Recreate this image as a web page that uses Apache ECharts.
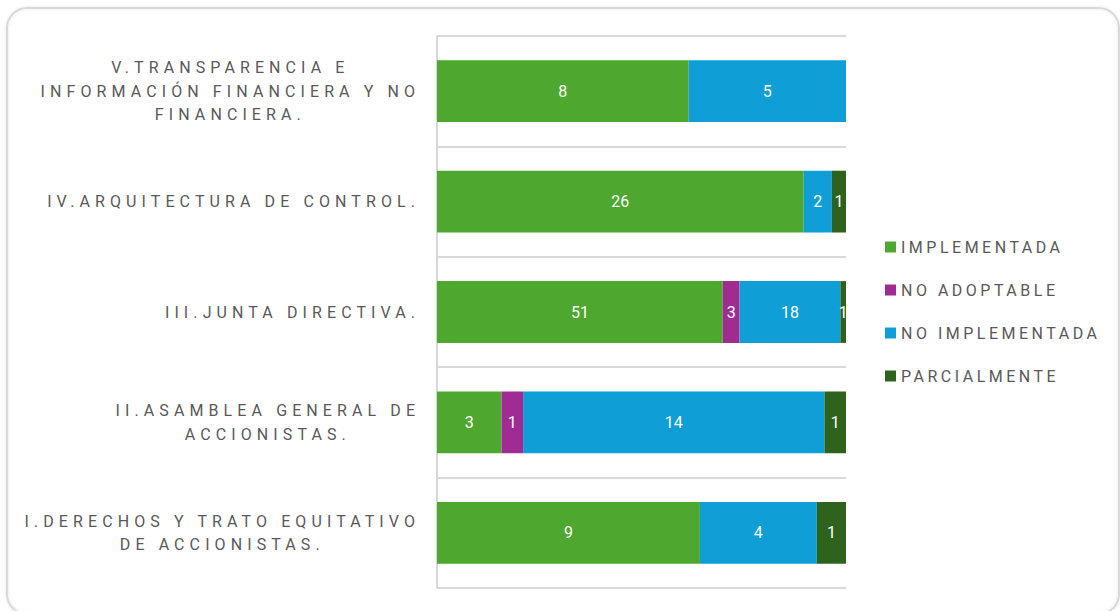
<!DOCTYPE html>
<html>
<head>
<meta charset="utf-8">
<script src="https://cdn.jsdelivr.net/npm/echarts@6/dist/echarts.min.js"></script>
<style>
html,body{margin:0;padding:0;background:#fff;}
#main{width:1120px;height:611px;}
</style>
</head>
<body>
<div id="main"></div>
<script>
// Categories bottom -> top
var categories = [
  'I.DERECHOS Y TRATO EQUITATIVO\nDE ACCIONISTAS.',
  'II.ASAMBLEA GENERAL DE\nACCIONISTAS.',
  'III.JUNTA DIRECTIVA.',
  'IV.ARQUITECTURA DE CONTROL.',
  'V.TRANSPARENCIA E\nINFORMACIÓN FINANCIERA Y NO\nFINANCIERA.'
];
var seriesNames = ['IMPLEMENTADA', 'NO ADOPTABLE', 'NO IMPLEMENTADA', 'PARCIALMENTE'];
var implementada   = [9, 3, 51, 26, 8];
var noAdoptable    = [0, 1, 3, 0, 0];
var noImplementada = [4, 14, 18, 2, 5];
var parcialmente   = [1, 1, 1, 1, 0];
var colors = ['#4EA72E', '#A02B93', '#0F9ED5', '#2E631E'];

var allVals = [implementada, noAdoptable, noImplementada, parcialmente];
var totals = categories.map(function (c, i) {
  return allVals.reduce(function (s, arr) { return s + arr[i]; }, 0);
});

var CAT_SPACING = 5.1;   // letter spacing for axis labels (px)
var LEG_SPACING = 3.5;   // letter spacing for legend texts (px)
var LABEL_RIGHT = 415;   // right edge of the axis label block

var chart = echarts.init(document.getElementById('main'), null, {renderer: 'svg'});

var series = allVals.map(function (arr, k) {
  return {
    name: seriesNames[k],
    type: 'bar',
    stack: 'total',
    barWidth: '56%',
    itemStyle: {color: colors[k]},
    label: {
      show: true,
      position: 'inside',
      color: '#ffffff',
      fontSize: 16,
      fontFamily: 'Roboto',
      formatter: function (p) { return p.data.raw > 0 ? String(p.data.raw) : ''; }
    },
    data: arr.map(function (v, i) { return {value: v / totals[i] * 100, raw: v}; })
  };
});

chart.setOption({
  animation: false,
  color: colors,
  grid: {left: 437, right: 274, top: 36, bottom: 23, containLabel: false},
  xAxis: {type: 'value', min: 0, max: 100, show: false},
  yAxis: {
    type: 'category',
    data: categories,
    axisTick: {show: false},
    axisLine: {show: true, lineStyle: {color: '#d9d9d9', width: 2}},
    splitLine: {show: true, lineStyle: {color: '#d9d9d9', width: 2}},
    axisLabel: {
      margin: 22,
      fontSize: 16,
      fontFamily: 'Roboto',
      color: '#595959',
      formatter: function (v) {
        return v.split('\n').map(function (l) { return '{c|' + l + '}'; }).join('\n');
      },
      rich: {c: {align: 'center', fontSize: 16, lineHeight: 23.5, color: '#595959', fontFamily: 'Roboto'}}
    }
  },
  legend: {
    orient: 'vertical',
    left: 880,
    top: 234,
    icon: 'rect',
    itemWidth: 11,
    itemHeight: 11,
    itemGap: 27,
    textStyle: {color: '#595959', fontSize: 16, fontFamily: 'Roboto'},
    data: seriesNames
  },
  graphic: [
    {
      type: 'rect', z: 100, silent: true,
      shape: {x: 847, y: 30, width: 30, height: 565},
      style: {fill: '#ffffff'}
    },
    {
      type: 'rect', z: 101, silent: true,
      shape: {x: 7, y: 8, width: 1112, height: 606, r: 20},
      style: {fill: 'none', stroke: '#d9d9d9', lineWidth: 2, shadowBlur: 3, shadowColor: 'rgba(0,0,0,0.12)'}
    }
  ],
  series: series
});

// Tracked (letter-spaced) text, as in the reference
function applySpacing() {
  var texts = Array.prototype.slice.call(document.querySelectorAll('#main text'));
  texts.forEach(function (t) {
    var s = t.textContent;
    if (seriesNames.indexOf(s) >= 0) t.style.letterSpacing = LEG_SPACING + 'px';
  });
  var used = [];
  categories.forEach(function (cat) {
    var lines = cat.split('\n');
    var els = [];
    lines.forEach(function (l) {
      for (var i = 0; i < texts.length; i++) {
        if (used.indexOf(texts[i]) < 0 && texts[i].textContent === l) {
          used.push(texts[i]); els.push(texts[i]); break;
        }
      }
    });
    els.forEach(function (el) { el.style.letterSpacing = CAT_SPACING + 'px'; });
    var widths = els.map(function (el) { return el.getBoundingClientRect().width - CAT_SPACING; });
    var maxW = Math.max.apply(null, widths);
    var center = LABEL_RIGHT - maxW / 2;
    els.forEach(function (el, j) {
      var r = el.getBoundingClientRect();
      var desiredLeft = center - widths[j] / 2;
      var delta = desiredLeft - r.left;
      var x = parseFloat(el.getAttribute('x') || '0');
      el.setAttribute('x', (x + delta).toFixed(2));
    });
  });
}
chart.on('finished', applySpacing);
applySpacing();
</script>
</body>
</html>
